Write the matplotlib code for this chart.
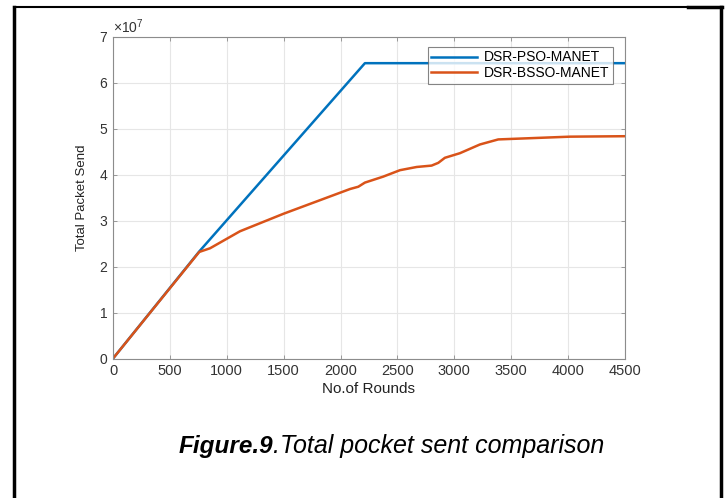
import matplotlib
matplotlib.use("Agg")
import matplotlib.pyplot as plt
from matplotlib.lines import Line2D
from matplotlib.ticker import ScalarFormatter
import numpy as np

plt.rcParams['font.family'] = ['Liberation Sans', 'DejaVu Sans']
plt.rcParams['mathtext.fontset'] = 'custom'
plt.rcParams['mathtext.rm'] = 'Liberation Sans'

# values (y in packets)
pso_rounds = [0, 758, 2214, 4500]
pso_sent = [0, 2.33e7, 6.43e7, 6.43e7]

bsso_rounds = [0, 758, 853, 1116, 1497, 1790, 2083, 2156, 2214, 2375, 2522,
               2669, 2800, 2859, 2917, 3049, 3225, 3386, 4016, 4500]
bsso_sent = [0, 2.32e7, 2.40e7, 2.77e7, 3.15e7, 3.42e7, 3.69e7, 3.74e7, 3.83e7,
             3.96e7, 4.10e7, 4.17e7, 4.20e7, 4.26e7, 4.37e7, 4.47e7, 4.66e7,
             4.77e7, 4.83e7, 4.84e7]

fig = plt.figure(figsize=(7.27, 4.98), dpi=100)
ax = fig.add_axes([113/727, 1 - 358.5/498, 512/727, 321.5/498])

ax.plot(pso_rounds, pso_sent, color='#0072BD', lw=1.8, label='DSR-PSO-MANET')
ax.plot(bsso_rounds, bsso_sent, color='#D95319', lw=1.8, label='DSR-BSSO-MANET')

ax.set_xlim(0, 4500)
ax.set_ylim(0, 7e7)
ax.set_xticks(np.arange(0, 4501, 500))
ax.set_yticks(np.arange(0, 7.01e7, 1e7))
fmt = ScalarFormatter(useMathText=True)
ax.yaxis.set_major_formatter(fmt)
ax.yaxis.get_offset_text().set_fontsize(10)
ax.yaxis.get_offset_text().set_color('#555555')

ax.grid(True, color='#e6e6e6', lw=0.8)
ax.set_axisbelow(True)
for s in ax.spines.values():
    s.set_color('#8c8c8c')
    s.set_linewidth(0.8)
ax.tick_params(direction='in', top=True, right=True, length=3, width=0.6,
               color='#8c8c8c', labelcolor='#333333')
ax.tick_params(axis='x', labelsize=10.5, pad=4)
ax.tick_params(axis='y', labelsize=10)

ax.set_xlabel('No.of Rounds', fontsize=11, color='#222222', labelpad=3)
ax.set_ylabel('Total Packet Send', fontsize=9.5, color='#222222', labelpad=8)

leg = ax.legend(loc='upper right', fontsize=10, frameon=True, fancybox=False,
                handlelength=3.3, handletextpad=0.5, borderpad=0.25,
                labelspacing=0.12, borderaxespad=0,
                bbox_to_anchor=(0.977, 0.969))
leg.get_frame().set_edgecolor('#666666')
leg.get_frame().set_linewidth(0.8)

# caption
fig.text(273/727, 1 - 453/498, 'Figure.9', fontsize=17.5, fontweight='bold',
         fontstyle='italic', ha='right', va='baseline')
fig.text(273/727, 1 - 453/498, '.Total pocket sent comparison', fontsize=18,
         fontstyle='italic', ha='left', va='baseline')

# page frame
W, H = 727, 498
fig.add_artist(Line2D([14/W, 14/W], [0, 1 - 7/H], color='black', lw=2.5,
                      transform=fig.transFigure))
fig.add_artist(Line2D([721/W, 721/W], [0, 1 - 7/H], color='black', lw=2.5,
                      transform=fig.transFigure))
fig.add_artist(Line2D([14/W, 688/W], [1 - 7/H, 1 - 7/H], color='black', lw=1.5,
                      transform=fig.transFigure))
fig.add_artist(Line2D([688/W, 722/W], [1 - 7/H, 1 - 7/H], color='black', lw=2.5,
                      transform=fig.transFigure))

fig.savefig('out.png', dpi=100)
